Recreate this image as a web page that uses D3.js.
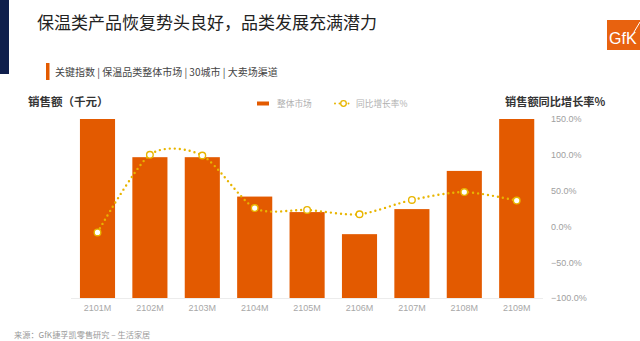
<!DOCTYPE html>
<html>
<head>
<meta charset="utf-8">
<script src="https://cdn.jsdelivr.net/npm/d3@7"></script>
<style>
  html, body { margin: 0; padding: 0; background: #fff; }
  svg { display: block; font-family: "Noto Sans CJK SC", "Noto Sans", sans-serif; }
</style>
</head>
<body>
<svg id="chart" width="640" height="341"></svg>
<script>
const categories = ["2101M","2102M","2103M","2104M","2105M","2106M","2107M","2108M","2109M"];
const salesValues = [1500, 1180, 1180, 850, 720, 535, 745, 1065, 1500];
const growthValues = [-8.4, 100, 99, 25.6, 23, 17, 37, 48, 36];
const growthTicks = [-100, -50, 0, 50, 100, 150];

const svg = d3.select("#chart");
const barColor = "#E35A00";
const lineColor = "#E8B500";

// decorations
svg.append("rect").attr("x", 0).attr("y", 0).attr("width", 9).attr("height", 74).attr("fill", "#0F1F4C");
svg.append("text").attr("x", 37).attr("y", 29).attr("font-size", 17).attr("fill", "#222")
  .text("保温类产品恢复势头良好，品类发展充满潜力");

// GfK logo
const logo = svg.append("g");
logo.append("rect").attr("x", 607).attr("y", 20).attr("width", 33).attr("height", 30).attr("fill", "#E8620F");
logo.append("text").attr("x", 609).attr("y", 44).attr("font-size", 16).attr("fill", "#fff")
  .attr("font-family", "Liberation Sans, Arial, sans-serif").text("GfK");
logo.append("line").attr("x1", 634).attr("y1", 32).attr("x2", 640).attr("y2", 22)
  .attr("stroke", "#fff").attr("stroke-width", 1);

// subtitle
svg.append("rect").attr("x", 46).attr("y", 63).attr("width", 3.5).attr("height", 17).attr("fill", "#E35A00");
svg.append("text").attr("x", 55).attr("y", 76).attr("font-size", 10).attr("fill", "#444")
  .text("关键指数 | 保温品类整体市场 | 30城市 | 大卖场渠道");

// axis titles
svg.append("text").attr("x", 28).attr("y", 106).attr("font-size", 11.5).attr("font-weight", "bold").attr("fill", "#333")
  .text("销售额（千元）");
svg.append("text").attr("x", 505).attr("y", 106).attr("font-size", 11.2).attr("font-weight", "bold").attr("fill", "#333")
  .text("销售额同比增长率%");

// scales
const x = d3.scaleBand().domain(categories).range([71.3, 542.9]).paddingInner(0.33).paddingOuter(0.165);
const yL = d3.scaleLinear().domain([0, 1500]).range([298, 119]);
const yR = d3.scaleLinear().domain([-100, 150]).range([298, 119]);

// baseline
svg.append("line").attr("x1", 71).attr("x2", 543).attr("y1", 298.5).attr("y2", 298.5)
  .attr("stroke", "#ececec").attr("stroke-width", 1);

// bars
svg.append("g").selectAll("rect").data(categories).join("rect")
  .attr("x", d => x(d))
  .attr("width", x.bandwidth())
  .attr("y", (d, i) => yL(salesValues[i]))
  .attr("height", (d, i) => yL(0) - yL(salesValues[i]))
  .attr("fill", barColor);

// right axis
const rAxis = svg.append("g").attr("transform", "translate(551,0)")
  .call(d3.axisRight(yR).tickValues(growthTicks).tickSize(0).tickPadding(0)
    .tickFormat(d => d3.format(".1f")(d) + "%"));
rAxis.select(".domain").remove();
rAxis.selectAll("text").attr("font-size", 9).attr("fill", "#a0a0a0")
  .attr("font-family", "Liberation Sans, Arial, sans-serif");

// x axis labels
const xAxis = svg.append("g").attr("transform", "translate(0,298)")
  .call(d3.axisBottom(x).tickSize(0).tickPadding(7));
xAxis.select(".domain").remove();
xAxis.selectAll("text").attr("font-size", 9).attr("fill", "#a8a8a8")
  .attr("font-family", "Liberation Sans, Arial, sans-serif");

// growth line
const line = d3.line()
  .x((d, i) => x(categories[i]) + x.bandwidth() / 2)
  .y(d => yR(d))
  .curve(d3.curveCardinal.tension(0.2));
svg.append("path").datum(growthValues)
  .attr("d", line)
  .attr("fill", "none")
  .attr("stroke", lineColor)
  .attr("stroke-width", 2.4)
  .attr("stroke-linecap", "round")
  .attr("stroke-dasharray", "0 5");
svg.append("g").selectAll("circle").data(growthValues).join("circle")
  .attr("cx", (d, i) => x(categories[i]) + x.bandwidth() / 2)
  .attr("cy", d => yR(d))
  .attr("r", 3.3)
  .attr("fill", "#fff")
  .attr("stroke", lineColor)
  .attr("stroke-width", 1.4);

// legend
const lg = svg.append("g");
lg.append("rect").attr("x", 257).attr("y", 101.5).attr("width", 12).attr("height", 4).attr("fill", barColor);
lg.append("text").attr("x", 277).attr("y", 107).attr("font-size", 8.7).attr("fill", "#b0b0b0").text("整体市场");
lg.append("line").attr("x1", 335).attr("x2", 353).attr("y1", 103.5).attr("y2", 103.5)
  .attr("stroke", lineColor).attr("stroke-width", 2).attr("stroke-linecap", "round").attr("stroke-dasharray", "0 4.5");
lg.append("circle").attr("cx", 343.5).attr("cy", 103.5).attr("r", 2.8).attr("fill", "#fff")
  .attr("stroke", lineColor).attr("stroke-width", 1.3);
lg.append("text").attr("x", 356).attr("y", 107).attr("font-size", 8.7).attr("fill", "#b0b0b0").text("同比增长率%");

// source
svg.append("text").attr("x", 14).attr("y", 338).attr("font-size", 8.2).attr("fill", "#999")
  .text("来源：GfK捷孚凯零售研究 – 生活家居");
</script>
</body>
</html>
